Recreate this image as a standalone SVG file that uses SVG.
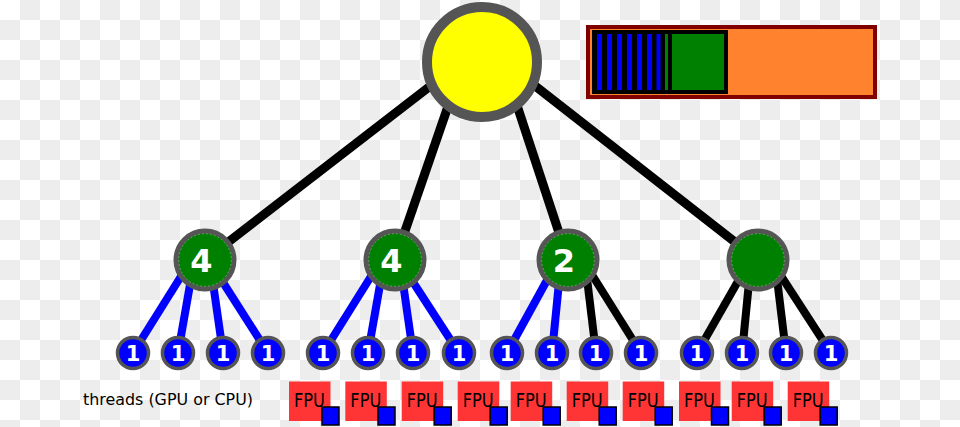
<svg xmlns="http://www.w3.org/2000/svg" width="960" height="427" viewBox="0 0 960 427">
<defs>
<pattern id="checker" width="40" height="40" patternUnits="userSpaceOnUse">
<rect width="40" height="40" fill="#ffffff"/>
<rect x="20" y="0" width="20" height="20" fill="#ededed"/>
<rect x="0" y="20" width="20" height="20" fill="#ededed"/>
</pattern>
<style>
.top{stroke:#000;stroke-width:9;fill:none}
.blue{stroke:#0000ff;stroke-width:8;fill:none}
.blk{stroke:#000;stroke-width:8;fill:none}
.mid{fill:#008000;stroke:#555;stroke-width:5}
.leaf{fill:#0000ff;stroke:#555;stroke-width:3.5}
.dash{fill:none;stroke:#fff;stroke-width:0.5;stroke-dasharray:2 2;opacity:0.6}
.lt{font-family:"DejaVu Sans",sans-serif;font-weight:bold;font-size:21px;fill:#fff;text-anchor:middle}
.mt{font-family:"DejaVu Sans",sans-serif;font-weight:bold;font-size:32px;fill:#fff;text-anchor:middle}
.fpu{fill:#ff3535}
.fsq{fill:#0000ff;stroke:#000;stroke-width:1.5}
.ft{font-family:"DejaVu Sans",sans-serif;font-size:19px;fill:#000}
</style>
</defs>
<rect width="960" height="427" fill="url(#checker)"/>

<g id="connectors">
<line class="top" x1="464" y1="60" x2="205" y2="260"/>
<line class="top" x1="464" y1="60" x2="395" y2="260"/>
<line class="top" x1="502" y1="60" x2="568" y2="260"/>
<line class="top" x1="502" y1="60" x2="758" y2="260"/>
<line class="blue" x1="190" y1="262" x2="133" y2="353"/>
<line class="blue" x1="194" y1="262" x2="178" y2="353"/>
<line class="blue" x1="210" y1="262" x2="223" y2="353"/>
<line class="blue" x1="210" y1="262" x2="268" y2="353"/>
<line class="blue" x1="380" y1="262" x2="323" y2="353"/>
<line class="blue" x1="384" y1="262" x2="368" y2="353"/>
<line class="blue" x1="400" y1="262" x2="413" y2="353"/>
<line class="blue" x1="400" y1="262" x2="459" y2="353"/>
<line class="blue" x1="557" y1="262" x2="507" y2="353"/>
<line class="blue" x1="561" y1="262" x2="552" y2="353"/>
<line class="blk" x1="585" y1="262" x2="596" y2="353"/>
<line class="blk" x1="584" y1="262" x2="641" y2="353"/>
<line class="blk" x1="749" y1="262" x2="697" y2="353"/>
<line class="blk" x1="751" y1="262" x2="742" y2="353"/>
<line class="blk" x1="775" y1="262" x2="786" y2="353"/>
<line class="blk" x1="772" y1="262" x2="831" y2="353"/>
</g>

<g id="root">
<circle cx="482" cy="62" r="55" fill="#ffff00" stroke="#555" stroke-width="10"/>
</g>

<g id="legend-bar">
<rect x="588" y="27" width="287" height="70" fill="#ff832f" stroke="#800000" stroke-width="4"/>
<rect x="592" y="30" width="136" height="64" fill="#000"/>
<rect x="597" y="34" width="5" height="56" fill="#0000ff"/>
<rect x="607" y="34" width="5" height="56" fill="#0000ff"/>
<rect x="617" y="34" width="5" height="56" fill="#0000ff"/>
<rect x="627" y="34" width="5" height="56" fill="#0000ff"/>
<rect x="637" y="34" width="5" height="56" fill="#0000ff"/>
<rect x="647" y="34" width="5" height="56" fill="#0000ff"/>
<rect x="656.5" y="34" width="4" height="56" fill="#0000ff"/>
<rect x="665" y="34" width="3" height="56" fill="#008000"/>
<rect x="672" y="34" width="52" height="56" fill="#008000"/>
</g>

<g id="mid1"><circle class="mid" cx="205" cy="260" r="29"/><circle class="dash" cx="205" cy="260" r="26.3"/><text class="mt" x="201.5" y="272">4</text></g>
<g id="mid2"><circle class="mid" cx="395" cy="260" r="29"/><circle class="dash" cx="395" cy="260" r="26.3"/><text class="mt" x="391.5" y="272">4</text></g>
<g id="mid3"><circle class="mid" cx="568" cy="260" r="29"/><circle class="dash" cx="568" cy="260" r="26.3"/><text class="mt" x="564" y="272">2</text></g>
<g id="mid4"><circle class="mid" cx="758" cy="260" r="29"/><circle class="dash" cx="758" cy="260" r="26.3"/></g>

<g id="leaf1"><circle class="leaf" cx="133" cy="353" r="15.5"/><text class="lt" x="133" y="360.5">1</text></g>
<g id="leaf2"><circle class="leaf" cx="178" cy="353" r="15.5"/><text class="lt" x="178" y="360.5">1</text></g>
<g id="leaf3"><circle class="leaf" cx="223" cy="353" r="15.5"/><text class="lt" x="223" y="360.5">1</text></g>
<g id="leaf4"><circle class="leaf" cx="268" cy="353" r="15.5"/><text class="lt" x="268" y="360.5">1</text></g>
<g id="leaf5"><circle class="leaf" cx="323" cy="353" r="15.5"/><text class="lt" x="323" y="360.5">1</text></g>
<g id="leaf6"><circle class="leaf" cx="368" cy="353" r="15.5"/><text class="lt" x="368" y="360.5">1</text></g>
<g id="leaf7"><circle class="leaf" cx="413" cy="353" r="15.5"/><text class="lt" x="413" y="360.5">1</text></g>
<g id="leaf8"><circle class="leaf" cx="459" cy="353" r="15.5"/><text class="lt" x="459" y="360.5">1</text></g>
<g id="leaf9"><circle class="leaf" cx="507" cy="353" r="15.5"/><text class="lt" x="507" y="360.5">1</text></g>
<g id="leaf10"><circle class="leaf" cx="552" cy="353" r="15.5"/><text class="lt" x="552" y="360.5">1</text></g>
<g id="leaf11"><circle class="leaf" cx="596" cy="353" r="15.5"/><text class="lt" x="596" y="360.5">1</text></g>
<g id="leaf12"><circle class="leaf" cx="641" cy="353" r="15.5"/><text class="lt" x="641" y="360.5">1</text></g>
<g id="leaf13"><circle class="leaf" cx="697" cy="353" r="15.5"/><text class="lt" x="697" y="360.5">1</text></g>
<g id="leaf14"><circle class="leaf" cx="742" cy="353" r="15.5"/><text class="lt" x="742" y="360.5">1</text></g>
<g id="leaf15"><circle class="leaf" cx="786" cy="353" r="15.5"/><text class="lt" x="786" y="360.5">1</text></g>
<g id="leaf16"><circle class="leaf" cx="831" cy="353" r="15.5"/><text class="lt" x="831" y="360.5">1</text></g>

<g id="threads-label"><text x="83" y="405" font-family="DejaVu Sans, sans-serif" font-size="15" fill="#000" textLength="170" lengthAdjust="spacingAndGlyphs">threads (GPU or CPU)</text></g>

<g id="fpu1"><rect class="fpu" x="289" y="381.5" width="41.5" height="39.5"/><text class="ft" x="294" y="406.5" textLength="31" lengthAdjust="spacingAndGlyphs">FPU</text><rect class="fsq" x="322" y="407" width="17" height="18"/></g>
<g id="fpu2"><rect class="fpu" x="345.3" y="381.5" width="41.5" height="39.5"/><text class="ft" x="350.3" y="406.5" textLength="31" lengthAdjust="spacingAndGlyphs">FPU</text><rect class="fsq" x="378" y="407" width="17" height="18"/></g>
<g id="fpu3"><rect class="fpu" x="401.7" y="381.5" width="41.5" height="39.5"/><text class="ft" x="406.7" y="406.5" textLength="31" lengthAdjust="spacingAndGlyphs">FPU</text><rect class="fsq" x="434.2" y="407" width="17" height="18"/></g>
<g id="fpu4"><rect class="fpu" x="457.7" y="381.5" width="41.5" height="39.5"/><text class="ft" x="462.7" y="406.5" textLength="31" lengthAdjust="spacingAndGlyphs">FPU</text><rect class="fsq" x="490.2" y="407" width="17" height="18"/></g>
<g id="fpu5"><rect class="fpu" x="510.7" y="381.5" width="41.5" height="39.5"/><text class="ft" x="515.7" y="406.5" textLength="31" lengthAdjust="spacingAndGlyphs">FPU</text><rect class="fsq" x="543.2" y="407" width="17" height="18"/></g>
<g id="fpu6"><rect class="fpu" x="566.7" y="381.5" width="41.5" height="39.5"/><text class="ft" x="571.7" y="406.5" textLength="31" lengthAdjust="spacingAndGlyphs">FPU</text><rect class="fsq" x="599.2" y="407" width="17" height="18"/></g>
<g id="fpu7"><rect class="fpu" x="622.7" y="381.5" width="41.5" height="39.5"/><text class="ft" x="627.7" y="406.5" textLength="31" lengthAdjust="spacingAndGlyphs">FPU</text><rect class="fsq" x="655.2" y="407" width="17" height="18"/></g>
<g id="fpu8"><rect class="fpu" x="679" y="381.5" width="41.5" height="39.5"/><text class="ft" x="684" y="406.5" textLength="31" lengthAdjust="spacingAndGlyphs">FPU</text><rect class="fsq" x="711.5" y="407" width="17" height="18"/></g>
<g id="fpu9"><rect class="fpu" x="731.7" y="381.5" width="41.5" height="39.5"/><text class="ft" x="736.7" y="406.5" textLength="31" lengthAdjust="spacingAndGlyphs">FPU</text><rect class="fsq" x="764.2" y="407" width="17" height="18"/></g>
<g id="fpu10"><rect class="fpu" x="787.7" y="381.5" width="41.5" height="39.5"/><text class="ft" x="792.7" y="406.5" textLength="31" lengthAdjust="spacingAndGlyphs">FPU</text><rect class="fsq" x="820.2" y="407" width="17" height="18"/></g>
</svg>
